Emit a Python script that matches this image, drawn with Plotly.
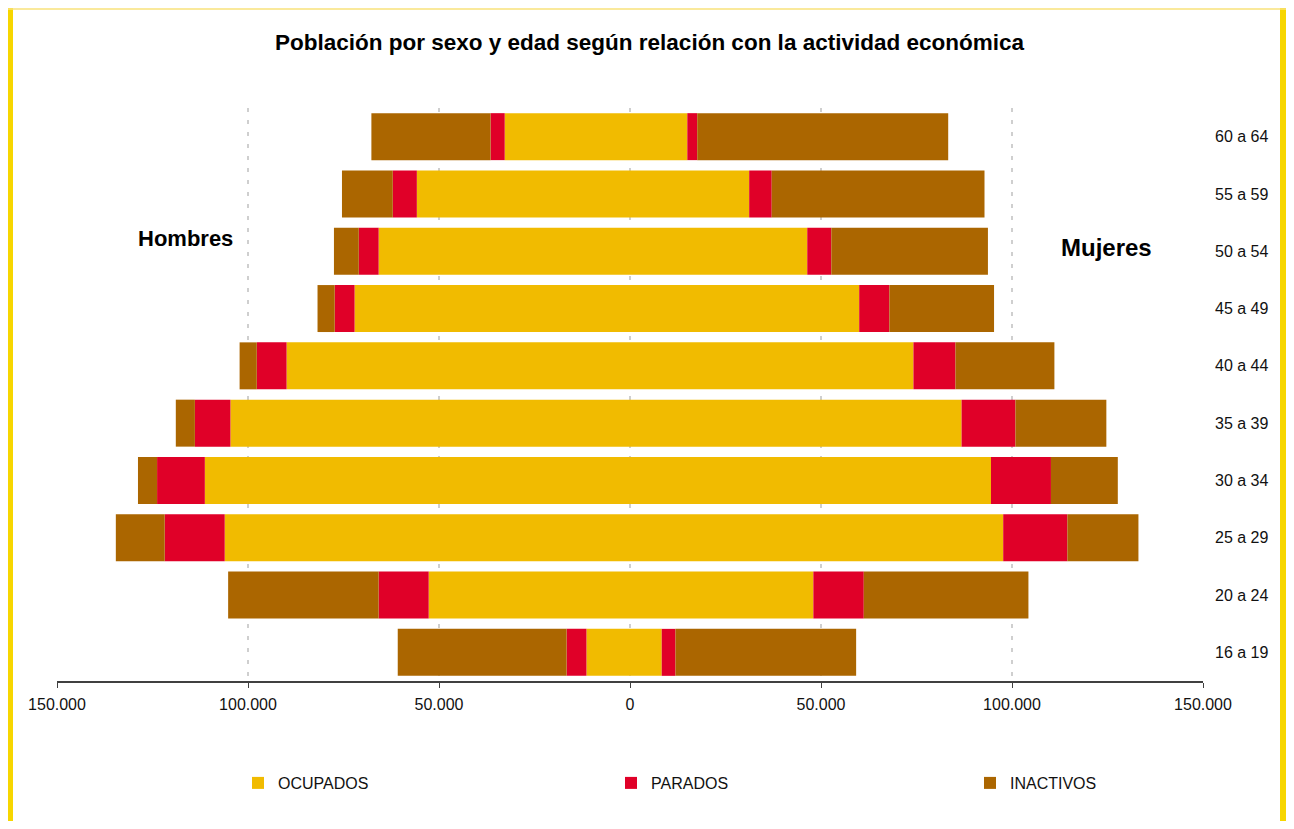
import plotly.graph_objects as go

categories = ["16 a 19", "20 a 24", "25 a 29", "30 a 34", "35 a 39",
              "40 a 44", "45 a 49", "50 a 54", "55 a 59", "60 a 64"]

hombres_ocupados = [11400, 52700, 106100, 111300, 104600, 89900, 72100, 65800, 55800, 32800]
hombres_parados = [5200, 13100, 15700, 12500, 9300, 7800, 5200, 5200, 6300, 3700]
hombres_inactivos = [44200, 39400, 12800, 5000, 5000, 4500, 4500, 6500, 13300, 31200]

mujeres_ocupados = [8300, 48000, 97700, 94500, 86800, 74200, 60000, 46400, 31200, 15000]
mujeres_parados = [3600, 13200, 16800, 15700, 14100, 11000, 7900, 6300, 5900, 2600]
mujeres_inactivos = [47300, 43100, 18600, 17500, 23800, 25900, 27400, 41000, 55700, 65700]

x_tickvals = [-150000, -100000, -50000, 0, 50000, 100000, 150000]
x_ticktext = ["150.000", "100.000", "50.000", "0", "50.000", "100.000", "150.000"]

series_names = ["OCUPADOS", "PARADOS", "INACTIVOS"]
colors = ["#F1BB00", "#E00028", "#AB6600"]
legend_ids = ["legend", "legend2", "legend3"]

FONT = "Liberation Sans, Arial, sans-serif"

# page offset (html body margin) and figure geometry; figure sized to fit the window
OFF = 8
W, H = 1294 - 2 * OFF, 829 - 2 * OFF
ML, MR, MT, MB = 57 - OFF, W - (1203 - OFF), 108 - OFF, H - (681 - OFF)
PW = W - ML - MR
PH = H - MT - MB


def px_x(p):
    """page pixel x -> paper fraction"""
    return (p - OFF - ML) / PW


def px_y(p):
    """page pixel y -> paper fraction"""
    return (H - MB - (p - OFF)) / PH


fig = go.Figure()
hombres = [hombres_ocupados, hombres_parados, hombres_inactivos]
mujeres = [mujeres_ocupados, mujeres_parados, mujeres_inactivos]
for name, color, h, m, lg in zip(series_names, colors, hombres, mujeres, legend_ids):
    fig.add_trace(go.Bar(
        y=categories, x=[-v for v in h], orientation="h", name=name,
        marker=dict(color=color, line=dict(width=0)), legendgroup=name,
        showlegend=False, customdata=h, legend=lg,
        hovertemplate="Hombres %{y}: %{customdata}<extra>" + name + "</extra>"))
    fig.add_trace(go.Bar(
        y=categories, x=m, orientation="h", name=name,
        marker=dict(color=color, line=dict(width=0)), legendgroup=name,
        showlegend=True, legend=lg,
        hovertemplate="Mujeres %{y}: %{x}<extra>" + name + "</extra>"))

boundaries = [i - 0.5 for i in range(len(categories) + 1)]

legend_common = dict(orientation="h", xanchor="left", yanchor="middle",
                     font=dict(size=16, color="#111"), bgcolor="rgba(0,0,0,0)")

BORDER = "#F7D600"

fig.update_layout(
    width=W, height=H,
    margin=dict(l=ML, r=MR, t=MT, b=MB),
    paper_bgcolor="white", plot_bgcolor="white",
    barmode="relative", bargap=0.18,
    font=dict(family=FONT, size=16, color="#111"),
    title=dict(text="<b>Población por sexo y edad según relación con la actividad económica</b>",
               x=(649.5 - OFF) / W, xanchor="center", y=1 - (42 - OFF) / H, yanchor="middle",
               font=dict(family=FONT, size=22.5, color="#000")),
    xaxis=dict(range=[-150000, 150000], tickvals=x_tickvals, ticktext=x_ticktext,
               showgrid=True, gridcolor="#cfcfcf", gridwidth=2, griddash="4px,8px",
               zeroline=False, showline=True, linecolor="#404040", linewidth=1.5,
               ticks="outside", ticklen=5, tickcolor="#404040", tickwidth=1,
               tickfont=dict(size=16, color="#111"), ticklabelstandoff=3,
               automargin=False, fixedrange=True),
    yaxis=dict(type="category", categoryorder="array", categoryarray=categories,
               range=[-0.5, len(categories) - 0.5], side="right", showgrid=False,
               zeroline=False, showline=False, ticks="",
               tickfont=dict(size=16, color="#111"), ticklabelstandoff=11,
               automargin=False, fixedrange=True),
    yaxis2=dict(overlaying="y", anchor="free", position=0.5, side="left",
                range=[-0.5, len(categories) - 0.5], tickvals=boundaries,
                showticklabels=False, ticks="outside", ticklen=4, tickcolor="#000",
                showline=True, linecolor="#000", linewidth=1, showgrid=False,
                zeroline=False, automargin=False, fixedrange=True),
    legend=dict(x=px_x(238), y=px_y(783), **legend_common),
    legend2=dict(x=px_x(611), y=px_y(783), **legend_common),
    legend3=dict(x=px_x(970), y=px_y(783), **legend_common),
    annotations=[
        dict(text="<b>Hombres</b>", x=px_x(185), y=px_y(238), xref="paper", yref="paper",
             xanchor="center", yanchor="middle",
             showarrow=False, font=dict(family=FONT, size=22, color="#000")),
        dict(text="<b>Mujeres</b>", x=px_x(1106), y=px_y(247), xref="paper", yref="paper",
             xanchor="center", yanchor="middle",
             showarrow=False, font=dict(family=FONT, size=24, color="#000")),
    ],
    shapes=[
        dict(type="rect", xref="paper", yref="paper", x0=px_x(OFF), x1=px_x(OFF + 5),
             y0=px_y(OFF + H + 5), y1=px_y(OFF), fillcolor=BORDER, line=dict(width=0), layer="above"),
        dict(type="rect", xref="paper", yref="paper", x0=px_x(OFF + W - 6), x1=px_x(OFF + W + 2),
             y0=px_y(OFF + H + 5), y1=px_y(OFF), fillcolor=BORDER, line=dict(width=0), layer="above"),
        dict(type="line", xref="paper", yref="paper", x0=px_x(OFF), x1=px_x(OFF + W),
             y0=px_y(OFF + 1), y1=px_y(OFF + 1), line=dict(color="#F8E27A", width=1.5), layer="above"),
    ],
)

fig.write_html("out.html")
